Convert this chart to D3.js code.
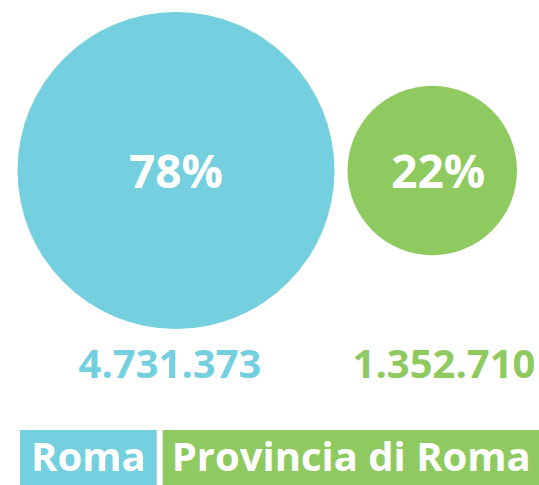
<!DOCTYPE html>
<html>
<head>
<meta charset="utf-8">
<script src="https://cdn.jsdelivr.net/npm/d3@7"></script>
<style>
  html, body { margin: 0; padding: 0; background: #fff; }
  svg { display: block; }
  text { font-family: "Open Sans", "Noto Sans", sans-serif; font-weight: 700; }
</style>
</head>
<body>
<svg id="chart" width="539" height="485"></svg>
<script>
// Residents of Rome vs. the rest of the province
const categories = ["Roma", "Provincia di Roma"];
const residents = [4731373, 1352710];
const shares = [78, 22];
const colors = ["#74cfdf", "#8fca61"];

const svg = d3.select("#chart");

// Circle area proportional to population
const maxR = 158.5;
const r = d3.scaleSqrt().domain([0, d3.max(residents)]).range([0, maxR]);

const left = 17.5, gap = 13, cy = 170.5;
const cx = [];
residents.forEach((v, i) => {
  if (i === 0) cx.push(left + r(v));
  else cx.push(cx[i - 1] + r(residents[i - 1]) + gap + r(v));
});

const itFmt = d3.formatLocale({ decimal: ",", thousands: ".", grouping: [3], currency: ["€", ""] }).format(",d");

const items = categories.map((c, i) => ({ name: c, value: residents[i], share: shares[i], color: colors[i], cx: cx[i] }));

const g = svg.append("g");

g.selectAll("circle.bubble")
  .data(items)
  .join("circle")
  .attr("class", "bubble")
  .attr("cx", d => d.cx)
  .attr("cy", cy)
  .attr("r", d => r(d.value))
  .attr("fill", d => d.color);

// percentage inside each bubble
const pctShift = [0, 6];
g.selectAll("text.pct")
  .data(items)
  .join("text")
  .attr("class", "pct")
  .attr("x", (d, i) => d.cx + pctShift[i])
  .attr("y", 188)
  .attr("text-anchor", "middle")
  .attr("font-size", 46)
  .attr("fill", "#fff")
  .text(d => d.share + "%");

// absolute figures under the bubbles
const numX = [170, 444];
g.selectAll("text.num")
  .data(items)
  .join("text")
  .attr("class", "num")
  .attr("x", (d, i) => numX[i])
  .attr("y", 378)
  .attr("text-anchor", "middle")
  .attr("font-size", 40)
  .attr("fill", d => d.color)
  .text(d => itFmt(d.value));

// legend boxes
const legendBoxes = [{ x: 20, w: 136.7 }, { x: 162.7, w: 377 }];
const lg = svg.append("g");
lg.selectAll("rect")
  .data(items)
  .join("rect")
  .attr("x", (d, i) => legendBoxes[i].x)
  .attr("y", 430)
  .attr("width", (d, i) => legendBoxes[i].w)
  .attr("height", 56)
  .attr("fill", d => d.color);

lg.selectAll("text")
  .data(items)
  .join("text")
  .attr("x", (d, i) => legendBoxes[i].x + legendBoxes[i].w / 2)
  .attr("y", 471)
  .attr("text-anchor", "middle")
  .attr("font-size", 40)
  .attr("fill", "#fff")
  .text(d => d.name);
</script>
</body>
</html>
